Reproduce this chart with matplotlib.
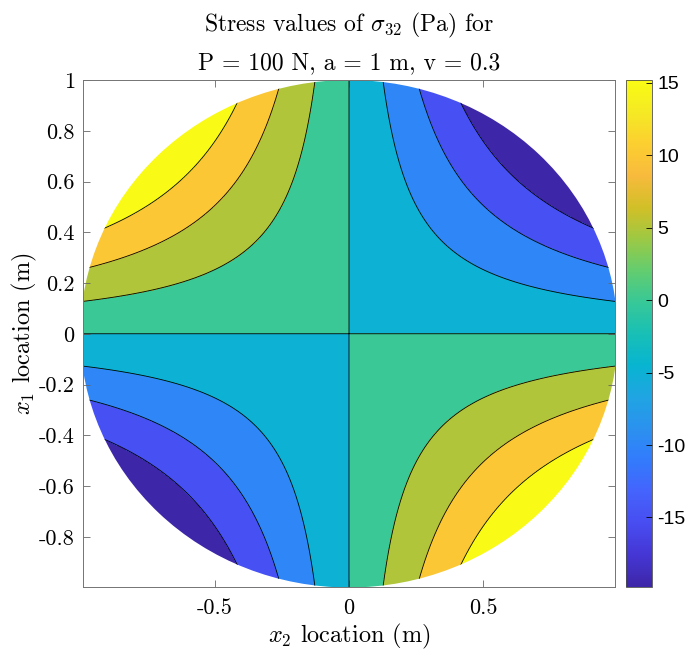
import numpy as np
import matplotlib
matplotlib.use('Agg')
import matplotlib.pyplot as plt
from matplotlib.colors import LinearSegmentedColormap, Normalize
from matplotlib.cm import ScalarMappable
from matplotlib.patches import Circle

plt.rcParams['font.family'] = 'cmr10'
plt.rcParams['mathtext.fontset'] = 'cm'
plt.rcParams['axes.unicode_minus'] = False
plt.rcParams['axes.formatter.use_mathtext'] = True

# contour levels and colour limits
levels = [-15, -10, -5, 0, 5, 10, 15]
stress_coeff = 39.6          # sigma32 ~ -coeff * x2 * x1 (from where the lines cut the rim)
z_min = -19.8                # bottom of the colorbar
z_top = 15.2                 # top of the colorbar
disk_radius = 1.0
xticks = [-0.5, 0, 0.5]
xticklabels = ['-0.5', '0', '0.5']
yticks = [-0.8, -0.6, -0.4, -0.2, 0, 0.2, 0.4, 0.6, 0.8, 1]
yticklabels = ['-0.8', '-0.6', '-0.4', '-0.2', '0', '0.2', '0.4', '0.6', '0.8', '1']
cbar_ticks = [-15, -10, -5, 0, 5, 10, 15]
cbar_labels = ['-15', '-10', '-5', '0', '5', '10', '15']

# parula (MATLAB) approximated from a subset of its table
parula_pts = [
    (0.2422, 0.1504, 0.6603), (0.2706, 0.2147, 0.8364), (0.2813, 0.3006, 0.9414),
    (0.2699, 0.3892, 0.9906), (0.1963, 0.4847, 0.9892), (0.1687, 0.5703, 0.9359),
    (0.1248, 0.6459, 0.8883), (0.0297, 0.7082, 0.8163), (0.0964, 0.7500, 0.7120),
    (0.2161, 0.7843, 0.5923), (0.3909, 0.8029, 0.4354), (0.6174, 0.7876, 0.2612),
    (0.8203, 0.7498, 0.1535), (0.9728, 0.7298, 0.2394), (0.9892, 0.8136, 0.1885),
    (0.9597, 0.9135, 0.1423), (0.9769, 0.9839, 0.0805)]
parula = LinearSegmentedColormap.from_list('parula', parula_pts, N=256)
norm = Normalize(vmin=z_min, vmax=z_top)

x = np.linspace(-1, 1, 700)
X2, X1 = np.meshgrid(x, x)
S = -stress_coeff * X2 * X1

# MATLAB colours each band by its lower bound (lowest band by the data minimum)
band_low = [z_min] + levels
band_colors = [parula(norm(v)) for v in band_low]

fig = plt.figure(figsize=(6.86, 6.64), dpi=100)
ax = fig.add_axes([83/686, 1-587/664, 532/686, 507/664])

cf = ax.contourf(X2, X1, S, levels=[-50] + levels + [50], colors=band_colors)
cl = ax.contour(X2, X1, S, levels=levels, colors='k', linewidths=0.6,
                linestyles='solid')
disk = Circle((0, 0), disk_radius, transform=ax.transData)
cf.set_clip_path(disk)
cl.set_clip_path(disk)

ax.set_xlim(-0.99, 0.99)
ax.set_ylim(-0.998, 1)
ax.set_xticks(xticks)
ax.set_xticklabels(xticklabels)
ax.set_yticks(yticks)
ax.set_yticklabels(yticklabels)
ax.tick_params(direction='in', top=True, right=True, length=5, width=0.6,
               color='0.4', labelsize=16)
ax.tick_params(axis='x', pad=8)
ax.tick_params(axis='y', pad=6)
for sp in ax.spines.values():
    sp.set_color('0.45')
    sp.set_linewidth(0.7)

ax.set_xlabel(r'$x_2$ location (m)', fontsize=17.5, labelpad=3)
ax.set_ylabel(r'$x_1$ location (m)', fontsize=17.5, labelpad=0)
ax.set_title('Stress values of $\\sigma_{32}$ (Pa) for\nP = 100 N, a = 1 m, v = 0.3',
             fontsize=17, linespacing=1.7, pad=8)

cax = fig.add_axes([626/686, 1-587/664, 26/686, 507/664])
cb = fig.colorbar(ScalarMappable(norm=norm, cmap=parula), cax=cax, ticks=cbar_ticks)
cb.set_ticklabels(cbar_labels)
cb.outline.set_linewidth(0.6)
cb.outline.set_edgecolor('0.3')
cax.tick_params(direction='in', length=4, width=0.6, labelsize=14, pad=4)
for t in cax.get_yticklabels():
    t.set_fontfamily('Liberation Sans')

fig.savefig('out.png', dpi=100)
